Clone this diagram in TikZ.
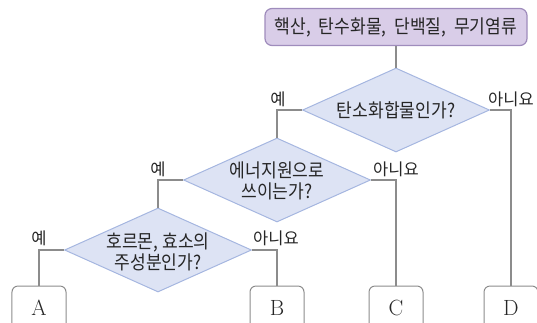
\documentclass[tikz,border=0pt]{standalone}
\usepackage{fontspec}
\newfontfamily\kr[FakeStretch=0.9]{Noto Sans CJK KR}
\newfontfamily\krl{Noto Sans CJK KR}
\usetikzlibrary{shapes.geometric}
\definecolor{topfill}{HTML}{D9CDE8}
\definecolor{topdraw}{HTML}{9F8CBC}
\definecolor{diafill}{HTML}{DDE3F4}
\definecolor{diadraw}{HTML}{A5B6E0}
\definecolor{linegray}{HTML}{8C8C8C}
\definecolor{txt}{HTML}{262626}
\begin{document}
\begin{tikzpicture}[x=1bp,y=-1bp,
  topbox/.style={draw=topdraw,fill=topfill,line width=1.2bp,rounded corners=7bp,
    minimum width=262bp,minimum height=37bp,inner sep=0pt,text=txt,
    font=\kr\fontsize{19bp}{22bp}\selectfont},
  dia/.style={diamond,draw=diadraw,fill=diafill,line width=1bp,
    minimum width=187bp,minimum height=84bp,inner sep=0pt},
  qtext/.style={align=center,text=txt,font=\kr\fontsize{19bp}{21bp}\selectfont},
  ans/.style={draw=linegray,line width=1bp,rounded corners=6bp,
    minimum width=54bp,minimum height=44bp,inner sep=0pt,text=txt,
    font=\fontsize{22bp}{24bp}\selectfont},
  lab/.style={text=txt,inner sep=0pt,font=\krl\fontsize{16.5bp}{18bp}\selectfont},
  conn/.style={draw=linegray,line width=1.3bp}]
\useasboundingbox (0,0) rectangle (537,322);
\clip (0,0) rectangle (537,322);
\node[topbox] (top) at (396,27) {핵산,\kern4bp{} 탄수화물,\kern4bp{} 단백질,\kern4bp{} 무기염류};
\node[dia,label={[qtext]center:탄소화합물인가?}] (d1) at (396,110) {};
\node[dia,label={[qtext,yshift=-1bp]center:{에너지원으로\\쓰이는가?}}] (d2) at (277,180) {};
\node[dia,label={[qtext,yshift=-2bp]center:{호르몬, 효소의\\주성분인가?}}] (d3) at (158,250) {};
\node[ans] (A) at (39,308) {A};
\node[ans] (B) at (277,308) {B};
\node[ans] (C) at (396,308) {C};
\node[ans] (D) at (511,308) {D};
\draw[conn] (top.south) -- (d1.north);
\draw[conn] (d1.west) -| (d2.north);
\draw[conn] (d1.east) -| (D.north);
\draw[conn] (d2.west) -| (d3.north);
\draw[conn] (d2.east) -| (C.north);
\draw[conn] (d3.west) -| (A.north);
\draw[conn] (d3.east) -| (B.north);
\node[lab] (y1) at (278,99) {예};
\node[lab] (n1) at (511,99) {아니요};
\node[lab] (y2) at (158,169) {예};
\node[lab] (n2) at (396,169) {아니요};
\node[lab] (y3) at (39,238) {예};
\node[lab] (n3) at (276,238) {아니요};
\end{tikzpicture}
\end{document}
